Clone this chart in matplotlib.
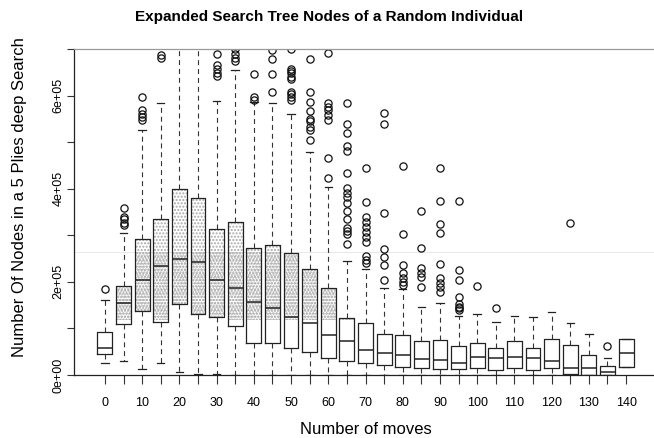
import matplotlib
matplotlib.use("Agg")
import matplotlib.pyplot as plt
from matplotlib.patches import Rectangle

plt.rcParams['font.family'] = ['Liberation Sans', 'DejaVu Sans']

moves = list(range(0, 145, 5))
q1 = [45e3, 110e3, 138e3, 114e3, 152e3, 132e3, 124e3, 105e3, 68e3, 69e3, 57e3, 49e3, 37e3, 31e3, 26e3,
      21e3, 18e3, 14e3, 12e3, 12e3, 14e3, 11e3, 14e3, 11e3, 14e3, 1.5e3, 1e3, 1e3, 18e3]
med = [57e3, 155e3, 205e3, 234e3, 250e3, 242e3, 205e3, 186e3, 157e3, 144e3, 125e3, 112e3, 86e3, 74e3, 54e3,
       47e3, 43e3, 34e3, 32e3, 26e3, 38e3, 37e3, 39e3, 36e3, 31e3, 14e3, 14e3, 7e3, 47e3]
q3 = [93e3, 192e3, 291e3, 336e3, 399e3, 381e3, 313e3, 329e3, 272e3, 279e3, 263e3, 228e3, 186e3, 123e3, 111e3,
      89e3, 86e3, 72e3, 75e3, 62e3, 69e3, 57e3, 72e3, 59e3, 77e3, 64e3, 43e3, 19e3, 77e3]
whislo = [26e3, 30e3, 12e3, 26e3, 6e3, 2e3, 3e3, 1e3, 1e3, 1e3, 1e3, 1e3, 1e3, 1e3, 1e3,
          1e3, 1e3, 0, 1e3, 1e3, 0, 0, 0, 0, 0, 0, 0, 0, 18e3]
whishi = [161e3, 305e3, 527e3, 583e3, 720e3, 720e3, 589e3, 655e3, 587e3, 585e3, 560e3, 478e3, 404e3, 245e3, 227e3,
          186e3, 185e3, 147e3, 154e3, 127e3, 132e3, 114e3, 127e3, 125e3, 136e3, 112e3, 88e3, 36e3, 77e3]
fliers = [
    [184e3],
    [358e3, 340e3, 334e3, 327e3, 322e3],
    [596e3, 569e3, 560e3, 553e3, 547e3],
    [687e3, 680e3],
    [],
    [],
    [689e3, 666e3, 658e3, 648e3, 642e3],
    [700e3, 690e3, 680e3, 675e3],
    [646e3, 598e3, 590e3],
    [698e3, 678e3, 646e3, 608e3],
    [700e3, 658e3, 653e3, 648e3, 639e3, 635e3, 608e3, 603e3, 596e3, 590e3],
    [678e3, 608e3, 587e3, 567e3, 550e3, 545e3, 532e3, 527e3, 505e3],
    [691e3, 583e3, 576e3, 568e3, 558e3, 547e3, 465e3, 422e3],
    [583e3, 538e3, 520e3, 492e3, 482e3, 433e3, 401e3, 390e3, 383e3, 369e3, 353e3, 336e3, 315e3, 310e3, 303e3, 281e3],
    [444e3, 372e3, 340e3, 329e3, 318e3, 308e3, 297e3, 286e3, 255e3, 247e3, 240e3],
    [563e3, 540e3, 348e3, 270e3, 253e3, 236e3, 205e3],
    [449e3, 303e3, 236e3, 218e3, 208e3, 200e3, 193e3],
    [353e3, 272e3, 230e3, 218e3, 210e3, 190e3],
    [444e3, 374e3, 324e3, 304e3, 238e3, 208e3, 198e3, 188e3, 179e3],
    [374e3, 225e3, 205e3, 168e3, 152e3, 147e3, 143e3, 140e3],
    [191e3],
    [144e3],
    [],
    [],
    [],
    [327e3],
    [],
    [62e3],
    [],
]
yticks = [0, 1e5, 2e5, 3e5, 4e5, 5e5, 6e5, 7e5]
ytick_labels = ["0e+00", "", "2e+05", "", "4e+05", "", "6e+05", ""]
xtick_labels = [str(m) if m % 10 == 0 else "" for m in moves]

W, H = 654, 438
fig = plt.figure(figsize=(W / 100, H / 100), dpi=100)
ax = fig.add_axes([74 / W, 63 / H, (657 - 74) / W, 326 / H])

positions = list(range(1, len(moves) + 1))
stats = []
for i in range(len(moves)):
    stats.append(dict(med=med[i], q1=q1[i], q3=q3[i], whislo=whislo[i], whishi=whishi[i], fliers=fliers[i]))

# dotted shading inside the boxes (as in the reference rendering)
band_lo, band_hi = 118e3, 264e3
for p, lo, hi in zip(positions, q1, q3):
    b = max(lo, band_lo)
    if hi > b:
        ax.add_patch(Rectangle((p - 0.4, b), 0.8, hi - b, fill=False, lw=0,
                               edgecolor='#a8a8a8', hatch='.....', zorder=1))
        t = min(hi, band_hi)
        if t > b:
            ax.add_patch(Rectangle((p - 0.4, b), 0.8, t - b, fill=False, lw=0,
                                   edgecolor='#b4b4b4', hatch='......', zorder=1))

ax.axhline(band_hi, color='#e4e4e4', lw=0.6, zorder=0)

ax.bxp(stats, positions=positions, widths=0.8, capwidths=0.4, showfliers=True,
       boxprops=dict(color='#222222', lw=0.9),
       medianprops=dict(color='#222222', lw=1.1),
       whiskerprops=dict(color='#333333', lw=0.8, linestyle=(0, (4.5, 3.5))),
       capprops=dict(color='#222222', lw=0.9),
       flierprops=dict(marker='o', markerfacecolor='none', markeredgecolor='#111111',
                       markersize=5.2, markeredgewidth=0.9, linestyle='none'))

ax.set_xlim(-0.66, 30.66)
ax.set_ylim(0, 7e5)
ax.set_xticks(positions)
ax.set_xticklabels(xtick_labels, fontsize=9)
ax.set_yticks(yticks)
ax.set_yticklabels(ytick_labels, fontsize=9, rotation=90, va='center')
ax.tick_params(axis='x', length=6.5, width=0.8, color='#333333', pad=9)
ax.tick_params(axis='y', length=5, width=0.8, color='#333333', pad=2)
for s in ['left', 'bottom']:
    ax.spines[s].set_color('#222222')
    ax.spines[s].set_linewidth(0.9)
ax.spines['top'].set_color('#999999')
ax.spines['top'].set_linewidth(0.9)
ax.spines['right'].set_visible(False)

fig.text(329 / W, 1 - 17 / H, "Expanded Search Tree Nodes of a Random Individual",
         ha='center', va='center', fontsize=11, fontweight='bold')
fig.text(366 / W, 1 - 429 / H, "Number of moves", ha='center', va='center', fontsize=12)
fig.text(20 / W, 1 - 197 / H, "Number Of Nodes in a 5 Plies deep Search",
         ha='center', va='center', fontsize=12, rotation=90)

fig.savefig("out.png", dpi=100)
